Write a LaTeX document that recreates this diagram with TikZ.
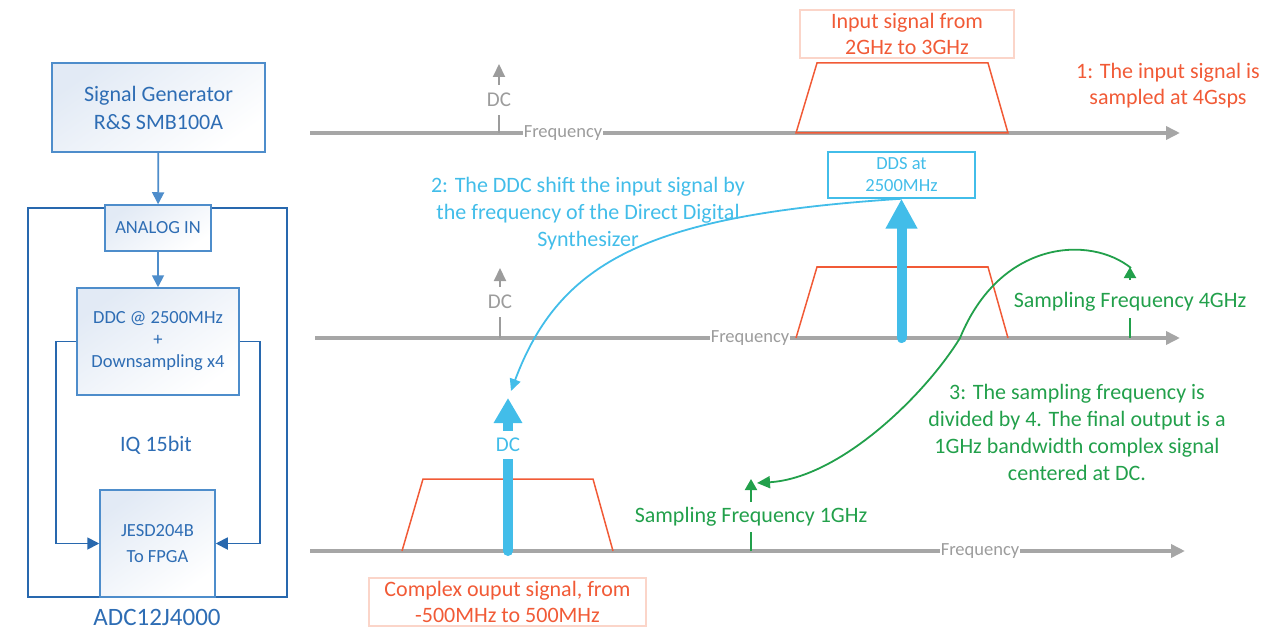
\documentclass[tikz,border=0pt]{standalone}
\usepackage{fontspec}
\setmainfont{Carlito}
\usetikzlibrary{arrows.meta}
\definecolor{bbord}{HTML}{4E8DCB}
\definecolor{bdark}{HTML}{2868AE}
\definecolor{btext}{HTML}{2E6DB4}
\definecolor{bfill}{HTML}{E2EAF5}
\definecolor{sky}{HTML}{42BDE9}
\definecolor{sred}{HTML}{F15A36}
\definecolor{lred}{HTML}{FBD5C9}
\definecolor{sgreen}{HTML}{22A04B}
\definecolor{axgray}{HTML}{A6A6A6}
\definecolor{txgray}{HTML}{9C9C9C}
\begin{document}
\begin{tikzpicture}[x=1pt,y=-1pt,
  blk/.style={draw=bbord, line width=1.5pt, top color=bfill, bottom color=white, shading angle=35, inner sep=0pt, text=btext, align=center},
  txtbig/.style={font=\fontsize{22}{26}\selectfont},
  txtsmall/.style={font=\fontsize{18.5}{22}\selectfont},
  flow/.style={draw=bbord, line width=1.8pt, -{Triangle[length=12pt,width=12pt]}},
  sideflow/.style={draw=bdark, line width=1.8pt, -{Triangle[length=12pt,width=12pt]}},
  faxis/.style={draw=axgray, line width=4pt, -{Triangle[length=14pt,width=13pt]}},
  freq/.style={fill=white, inner xsep=1pt, inner ysep=3pt, text=txgray, font=\fontsize{18.5}{22}\selectfont},
  gmark/.style={draw=txgray, line width=2pt, -{Triangle[length=13pt,width=12pt]}},
  gdc/.style={fill=white, inner xsep=2pt, inner ysep=8pt, text=txgray, font=\fontsize{21}{24}\selectfont},
  redshape/.style={draw=sred, line width=1.5pt, line join=miter},
  notebox/.style={draw=lred, line width=1.2pt, text=sred, align=center, inner sep=0pt, font=\fontsize{22}{26}\selectfont},
  bigarrow/.style={draw=sky, line width=10pt, line cap=round},
  grn/.style={draw=sgreen, line width=2pt},
  grnarrow/.style={draw=sgreen, line width=2pt, -{Triangle[length=11pt,width=12pt]}}
]
\useasboundingbox (0,0) rectangle (1280,631);

% ---------------- left block diagram ----------------
\node[draw=bdark, line width=1.5pt, minimum width=259pt, minimum height=389pt, inner sep=0pt] (adc) at (157.5,402.5) {};
\node[blk, font=\fontsize{22}{28}\selectfont, minimum width=213pt, minimum height=89pt] (sg) at (158.5,107.5) {Signal Generator\\R\&S SMB100A};
\node[blk, txtsmall, minimum width=106pt, minimum height=46pt] (ain) at (158,228) {ANALOG IN};
\node[blk, txtsmall, minimum width=162pt, minimum height=107pt] (ddc) at (158,341.5) {DDC @ 2500MHz\\+\\Downsampling x4};
\node[blk, font=\fontsize{18.5}{26}\selectfont, minimum width=115pt, minimum height=107pt] (jesd) at (157.5,543.5) {JESD204B\\To FPGA};
\node[text=btext, txtbig] (iq) at (156,445) {IQ 15bit};
\node[text=btext, font=\fontsize{25}{30}\selectfont] (adcl) at (157,617) {ADC12J4000};

\draw[flow] (sg) -- (ain);
\draw[flow] (ain) -- (ddc);
\draw[sideflow] (ddc.west) -- ++(-20,0) |- (jesd.west);
\draw[sideflow] (ddc.east) -- ++(20,0) |- (jesd.east);

% ---------------- axes ----------------
\coordinate (a1s) at (310,133); \coordinate (a1e) at (1180,133);
\coordinate (a2s) at (315,338); \coordinate (a2e) at (1180,338);
\coordinate (a3s) at (310,551); \coordinate (a3e) at (1185,551);
\draw[faxis] (a1s) -- (a1e);
\draw[faxis] (a2s) -- (a2e);
\draw[faxis] (a3s) -- (a3e);
\node[freq] (f1) at (563,133) {Frequency};
\node[freq] (f2) at (750,338) {Frequency};
\node[freq] (f3) at (980,551) {Frequency};

% gray DC markers
\coordinate (dc1b) at (499,133); \coordinate (dc1t) at (499,64);
\draw[gmark] (dc1b) -- (dc1t);
\node[gdc] (dc1) at (499,100) {DC};
\coordinate (dc2b) at (500,338); \coordinate (dc2t) at (500,268);
\draw[gmark] (dc2b) -- (dc2t);
\node[gdc] (dc2) at (500,302) {DC};

% red spectra
\draw[redshape] (796,133) -- (817,63) -- (988,63) -- (1008,133) -- cycle;
\draw[redshape] (796,338) -- (817,267) -- (988,267) -- (1008,338);
\draw[redshape] (402,551) -- (423,479) -- (593,479) -- (613,551);

\node[notebox, minimum width=214pt, minimum height=48pt] (insig) at (907,34) {Input signal from\\2GHz to 3GHz};
\node[text=sred, align=center, font=\fontsize{22}{26}\selectfont] (n1) at (1168,86) {1: The input signal is\\sampled at 4Gsps};
\node[notebox, minimum width=277pt, minimum height=48pt] (cplx) at (507.5,602) {Complex ouput signal, from\\-500MHz to 500MHz};

% DDS
\node[draw=sky, line width=1.5pt, minimum width=147pt, minimum height=46pt, inner sep=0pt, text=sky, align=center, font=\fontsize{18.5}{22}\selectfont] (dds) at (901.5,175) {DDS at\\2500MHz};
\coordinate (ddsb) at (901.5,338);
\draw[bigarrow, -{Triangle[length=30pt,width=30pt]}] (ddsb) -- (dds.south);
\node[text=sky, align=center, font=\fontsize{22}{27}\selectfont] (n2) at (588,214) {2: The DDC shift the input signal by\\the frequency of the Direct Digital\\Synthesizer};

% bottom DC arrow
\coordinate (dcbb) at (508,551); \coordinate (dcbt) at (508,398);
\draw[bigarrow, -{Triangle[length=25pt,width=27pt]}] (dcbb) -- (dcbt);
\node[fill=white, inner xsep=1pt, inner ysep=7pt, text=sky, font=\fontsize{21}{24}\selectfont] (dcb) at (508,445) {DC};

\coordinate (bcend) at (511,391);
\draw[draw=sky, line width=1.8pt, -{Triangle[length=12pt,width=11pt]}] (dds.south) .. controls (650,215) and (560,260) .. (bcend);

% green markers
\coordinate (g4b) at (1130,338); \coordinate (g4m) at (1130,318);
\coordinate (g4a) at (1130,280); \coordinate (g4t) at (1130,267);
\draw[grn] (g4b) -- (g4m);
\draw[grnarrow] (g4a) -- (g4t);
\node[text=sgreen, font=\fontsize{22}{26}\selectfont] (s4) at (1130,302) {Sampling Frequency 4GHz};
\coordinate (g1b) at (751,551); \coordinate (g1m) at (751,532);
\coordinate (g1a) at (751,502); \coordinate (g1t) at (751,479);
\draw[grn] (g1b) -- (g1m);
\draw[grnarrow] (g1a) -- (g1t);
\node[text=sgreen, font=\fontsize{22}{26}\selectfont] (s1) at (751,517) {Sampling Frequency 1GHz};

\coordinate (gcs) at (1131,268); \coordinate (gcm) at (960,338); \coordinate (gce) at (757,483);
\draw[draw=sgreen, line width=1.8pt, -{Triangle[length=13pt,width=12pt]}] (gcs) .. controls (1090,235) and (1000,240) .. (gcm) .. controls (925,395) and (840,478) .. (gce);
\node[text=sgreen, align=center, font=\fontsize{22}{27}\selectfont] (n3) at (1077,432) {3: The sampling frequency is\\divided by 4. The final output is a\\1GHz bandwidth complex signal\\centered at DC.};
\end{tikzpicture}
\end{document}
